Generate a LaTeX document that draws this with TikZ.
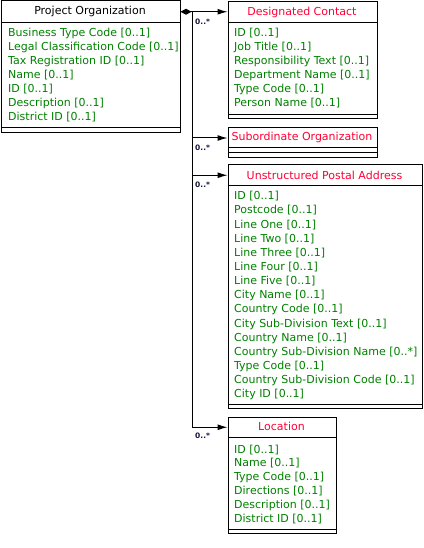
\documentclass[tikz,border=0pt]{standalone}
\usepackage{fontspec}
\setmainfont{DejaVu Sans}
\usetikzlibrary{arrows.meta}
\definecolor{attrgreen}{RGB}{0,128,0}
\definecolor{titlered}{RGB}{255,0,51}
\definecolor{multcol}{RGB}{20,20,60}
\begin{document}
\begin{tikzpicture}[x=1pt,y=-1pt,
  box/.style={draw, line width=1pt, inner sep=0pt, anchor=north west},
  ttl/.style={font=\fontsize{11}{13}\selectfont, text=titlered, inner sep=0pt, anchor=base},
  attr/.style={font=\fontsize{11}{13}\selectfont, text=attrgreen, inner sep=0pt, anchor=base west},
  mult/.style={font=\fontsize{7.5}{8}\selectfont\bfseries, text=multcol, inner sep=0pt, anchor=west},
  conn/.style={line width=1pt, -{Latex[length=10pt,width=6pt]}}]
\useasboundingbox (0,0) rectangle (423,548);

% Project Organization
\node[box, minimum width=179pt, minimum height=21.5pt] (poH) at (0.5,0.5) {};
\node[box, minimum width=179pt, minimum height=105.5pt] (poA) at (0.5,22) {};
\node[box, minimum width=179pt, minimum height=4.5pt] (poB) at (0.5,127.5) {};
\node[ttl, text=black] (poT) at (90,15) {Project Organization};
\foreach \t [count=\i] in {{Business Type Code [0..1]},{Legal Classification Code [0..1]},{Tax Registration ID [0..1]},{Name [0..1]},{ID [0..1]},{Description [0..1]},{District ID [0..1]}}
  \node[attr] (po-\i) at (8,{37+14*(\i-1)}) {\t};

% Designated Contact
\node[box, minimum width=149pt, minimum height=21pt] (dcH) at (227.5,1) {};
\node[box, minimum width=149pt, minimum height=92pt] (dcA) at (227.5,22) {};
\node[box, minimum width=149pt, minimum height=4pt] (dcB) at (227.5,114) {};
\node[ttl] (dcT) at (302,15.5) {Designated Contact};
\foreach \t [count=\i] in {{ID [0..1]},{Job Title [0..1]},{Responsibility Text [0..1]},{Department Name [0..1]},{Type Code [0..1]},{Person Name [0..1]}}
  \node[attr] (dc-\i) at (234,{37+14*(\i-1)}) {\t};

% Subordinate Organization
\node[box, minimum width=149pt, minimum height=20pt] (soH) at (227.5,127.5) {};
\node[box, minimum width=149pt, minimum height=5pt] (soA) at (227.5,147.5) {};
\node[box, minimum width=149pt, minimum height=4.5pt] (soB) at (227.5,152.5) {};
\node[ttl] (soT) at (302,140.5) {Subordinate Organization};

% Unstructured Postal Address
\node[box, minimum width=194pt, minimum height=20.5pt] (upH) at (227.5,164.5) {};
\node[box, minimum width=194pt, minimum height=219pt] (upA) at (227.5,185) {};
\node[box, minimum width=194pt, minimum height=4pt] (upB) at (227.5,404) {};
\node[ttl] (upT) at (324.5,179.7) {Unstructured Postal Address};
\foreach \t [count=\i] in {{ID [0..1]},{Postcode [0..1]},{Line One [0..1]},{Line Two [0..1]},{Line Three [0..1]},{Line Four [0..1]},{Line Five [0..1]},{City Name [0..1]},{Country Code [0..1]},{City Sub-Division Text [0..1]},{Country Name [0..1]},{Country Sub-Division Name [0..*]},{Type Code [0..1]},{Country Sub-Division Code [0..1]},{City ID [0..1]}}
  \node[attr] (up-\i) at (234,{199.7+14.16*(\i-1)}) {\t};

% Location
\node[box, minimum width=108pt, minimum height=20.5pt] (loH) at (227.5,416.5) {};
\node[box, minimum width=108pt, minimum height=92pt] (loA) at (227.5,437) {};
\node[box, minimum width=108pt, minimum height=4pt] (loB) at (227.5,529) {};
\node[ttl] (loT) at (281.5,430.5) {Location};
\foreach \t [count=\i] in {{ID [0..1]},{Name [0..1]},{Type Code [0..1]},{Directions [0..1]},{Description [0..1]},{District ID [0..1]}}
  \node[attr] (lo-\i) at (234,{453+13.9*(\i-1)}) {\t};

% Connectors
\coordinate (j) at (192.5,11.25);
\draw[line width=1pt, {Diamond[length=11pt,width=6pt]}-{Latex[length=10pt,width=6pt]}] (poH.east) -- (poH.east -| dcH.west);
\draw[conn] (j) |- (soH.west);
\draw[conn] (j) |- (upH.west);
\draw[conn] (j) |- (loH.west);

\node[mult] (m1) at (195,21.5) {0..*};
\node[mult] (m2) at (195,147.5) {0..*};
\node[mult] (m3) at (195,185) {0..*};
\node[mult] (m4) at (195,436) {0..*};
\end{tikzpicture}
\end{document}
